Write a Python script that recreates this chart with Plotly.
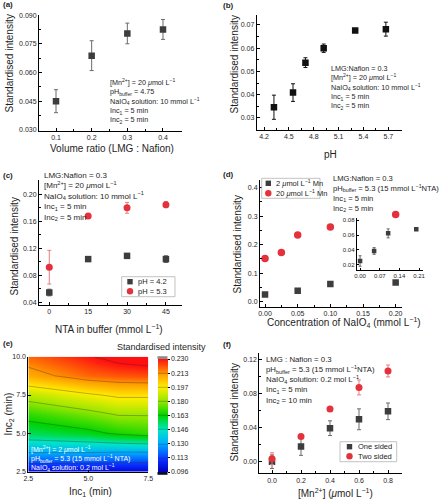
import plotly.graph_objects as go

W, H = 441, 500
def px(v): return v / W
def py(v): return 1 - v / H

FONT = "Liberation Sans, Arial, Helvetica, sans-serif"
GREY = "#3d3d3d"
GREY_ERR = "#6a6a6a"
BLACK = "#111111"
RED = "#e4323d"
RED_ERR = "#ea7b83"
TXT = "#1e1e1e"

# ---------------- data ----------------
# (a)
a_ratio = [0.1, 0.2, 0.3, 0.4]
a_int = [0.0450, 0.0688, 0.0804, 0.0825]
a_err = [0.0060, 0.0078, 0.0054, 0.0052]

# (b)
b_ph = [4.32, 4.55, 4.70, 4.92, 5.30, 5.67]
b_int = [0.0346, 0.0409, 0.0538, 0.0600, 0.0676, 0.0682]
b_err = [0.0052, 0.0038, 0.0021, 0.0018, 0.0005, 0.0030]

# (c)
c_nta = [0, 15, 30, 45]
c_int_ph42 = [0.0545, 0.1040, 0.1088, 0.1040]
c_err_ph42 = [0.0050, 0.0012, 0.0012, 0.0050]
c_int_ph53 = [0.0920, 0.1680, 0.1800, 0.1847]
c_err_ph53 = [0.0250, 0.0010, 0.0080, 0.0045]

# (d)
d_conc_2 = [0.0, 0.05, 0.10, 0.20]
d_int_2 = [0.0253, 0.0387, 0.0622, 0.0676]
d_err_2 = [0.0070, 0.0045, 0.0060, 0.0010]
d_conc_20 = [0.0, 0.025, 0.05, 0.10, 0.20]
d_int_20 = [0.152, 0.173, 0.234, 0.262, 0.306]

# (e)
e_inc1 = [2.5, 5.0, 6.25, 7.5]
e_inc2 = [2.5, 3.75, 5.0, 6.25, 7.5, 8.75, 10.0]
e_z = [
    [0.100, 0.100, 0.099, 0.099],
    [0.130, 0.130, 0.129, 0.129],
    [0.155, 0.160, 0.165, 0.168],
    [0.168, 0.176, 0.181, 0.181],
    [0.186, 0.195, 0.199, 0.199],
    [0.209, 0.219, 0.221, 0.222],
    [0.219, 0.229, 0.235, 0.238],
]
cb_tickvals = [0.096, 0.11275, 0.1295, 0.14625, 0.163, 0.17975, 0.1965, 0.21325, 0.230]
cb_ticktext = ["0.096", "0.113", "0.130", "0.146", "0.163", "0.180", "0.197", "0.213", "0.230"]

# (f)
f_mn = [0.0, 0.2, 0.4, 0.6, 0.8]
f_one = [0.0000, 0.0180, 0.0395, 0.0500, 0.0594]
f_one_err = [0.0080, 0.0105, 0.0087, 0.0123, 0.0098]
f_two = [0.0035, 0.0297, 0.0620, 0.0876, 0.1070]
f_two_err = [0.0070, 0.0010, 0.0010, 0.0088, 0.0070]

# tick labels
a_xticks = [0.1, 0.2, 0.3, 0.4]
a_yticks = [0.030, 0.045, 0.060, 0.075, 0.090]
b_xticks = [4.2, 4.5, 4.8, 5.1, 5.4, 5.7]
b_yticks = [0.03, 0.04, 0.05, 0.06, 0.07]
c_xticks = [0, 15, 30, 45]
c_yticks = [0.04, 0.08, 0.12, 0.16, 0.20]
d_xticks = [0.00, 0.05, 0.10, 0.15, 0.20]
d_yticks = [0.0, 0.1, 0.2, 0.3, 0.4]
di_xticks = [0.00, 0.07, 0.14, 0.21]
di_yticks = [0.02, 0.04, 0.06, 0.08]
e_xticks = [2.5, 5.0, 7.5]
e_yticks = [2.5, 5.0, 7.5, 10.0]
f_xticks = [0.0, 0.2, 0.4, 0.6, 0.8]
f_yticks = [0.00, 0.04, 0.08, 0.12]

fig = go.Figure()

def errbar(vals, color, width=2):
    return dict(type="data", array=vals, visible=True, color=color, thickness=1, width=width)

def pts(x, y, e, xa, ya, symbol, color, ecolor, size=6.5, ew=2):
    fig.add_trace(go.Scatter(
        x=x, y=y, mode="markers",
        marker=dict(symbol=symbol, size=size, color=color, line=dict(width=0)),
        error_y=errbar(e, ecolor, ew) if e is not None else None,
        xaxis=xa, yaxis=ya, hoverinfo="skip"))

# (a)
pts(a_ratio, a_int, a_err, "x", "y", "square", GREY, GREY_ERR)
# (b)
pts(b_ph, b_int, b_err, "x2", "y2", "square", BLACK, BLACK)
# (c)
pts(c_nta, c_int_ph42, c_err_ph42, "x3", "y3", "square", GREY, GREY_ERR)
pts(c_nta, c_int_ph53, c_err_ph53, "x3", "y3", "circle", RED, RED_ERR, size=7)
# (d)
pts(d_conc_2, d_int_2, d_err_2, "x4", "y4", "square", GREY, GREY_ERR)
pts(d_conc_20, d_int_20, None, "x4", "y4", "circle", RED, RED_ERR, size=7.5)
# (d) inset
pts(d_conc_2, d_int_2, d_err_2, "x7", "y7", "square", GREY, GREY_ERR, size=4.5, ew=1.5)
# (e)
colorscale = [
    [0.0, "#0000b8"], [0.10, "#0a28ff"], [0.25, "#00aaff"], [0.37, "#00e6c8"],
    [0.50, "#00d400"], [0.62, "#8ee600"], [0.75, "#ffee00"], [0.87, "#ff9a00"],
    [1.0, "#ff1010"],
]
fig.add_trace(go.Contour(
    x=e_inc1, y=e_inc2, z=e_z, colorscale=colorscale,
    zauto=False, zmin=0.096, zmax=0.230, autocontour=False,
    contours=dict(coloring="heatmap", start=0.1130, end=0.2303, size=0.016750, showlines=True),
    line=dict(color="rgba(40,40,40,0.55)", width=0.6, smoothing=0),
    xaxis="x5", yaxis="y5", hoverinfo="skip",
    colorbar=dict(
        x=px(157.5), xanchor="left", xpad=0, y=py(415.5), yanchor="middle", ypad=0,
        len=113, lenmode="pixels", thickness=10, thicknessmode="pixels",
        outlinewidth=0, tickmode="array", tickvals=cb_tickvals, ticktext=cb_ticktext,
        ticks="outside", ticklen=2, tickcolor="black", tickwidth=1,
        tickfont=dict(size=7, color=TXT, family=FONT)),
))
# (f)
pts(f_mn, f_one, f_one_err, "x6", "y6", "square", GREY, GREY_ERR)
pts(f_mn, f_two, f_two_err, "x6", "y6", "circle", RED, RED_ERR, size=7)

def axis(p0, p1, rng, ticks, fmt, anchor, vertical=False, minor=True, fs=7, tl=3):
    dom = [py(p1), py(p0)] if vertical else [px(p0), px(p1)]
    d = dict(domain=dom, range=rng, tickmode="array", tickvals=ticks,
             ticktext=[format(t, fmt) for t in ticks], anchor=anchor,
             showline=True, linecolor="black", linewidth=1, ticks="inside",
             ticklen=tl, tickwidth=1, tickcolor="black", showgrid=False,
             zeroline=False, tickfont=dict(size=fs, color=TXT, family=FONT),
             fixedrange=True, automargin=False)
    if minor:
        mids = [(ticks[i] + ticks[i + 1]) / 2 for i in range(len(ticks) - 1)]
        d["minor"] = dict(tickmode="array", tickvals=mids, ticks="inside",
                          ticklen=2, tickwidth=1, tickcolor="black", showgrid=False)
    return d

layout = dict(
    width=W, height=H, margin=dict(l=0, r=0, t=0, b=0, autoexpand=False),
    paper_bgcolor="white", plot_bgcolor="rgba(0,0,0,0)", showlegend=False,
    font=dict(family=FONT, size=8, color=TXT),
    xaxis=axis(39, 182, [0.0523, 0.4533], a_xticks, ".1f", "y"),
    yaxis=axis(14.5, 130.5, [0.0297, 0.0903], a_yticks, ".3f", "x", vertical=True),
    xaxis2=axis(256.7, 401.7, [4.112, 5.861], b_xticks, ".1f", "y2"),
    yaxis2=axis(15, 130, [0.0248, 0.0743], b_yticks, ".2f", "x2", vertical=True),
    xaxis3=axis(39, 182, [-3.97, 51.2], c_xticks, "d", "y3"),
    yaxis3=axis(180, 305, [0.0360, 0.2212], c_yticks, ".2f", "x3", vertical=True),
    xaxis4=axis(260, 402, [-0.0077, 0.2097], d_xticks, ".2f", "y4"),
    yaxis4=axis(180, 306.7, [-0.0175, 0.427], d_yticks, ".1f", "x4", vertical=True),
    xaxis5=axis(28.3, 148.3, [2.5, 7.5], e_xticks, ".1f", "y5", minor=False),
    yaxis5=axis(356.7, 471.7, [2.5, 10.0], e_yticks, ".1f", "x5", vertical=True, minor=False),
    xaxis6=axis(259.3, 401.7, [-0.0876, 0.8945], f_xticks, ".1f", "y6"),
    yaxis6=axis(353, 473.3, [-0.0137, 0.1282], f_yticks, ".2f", "x6", vertical=True),
    xaxis7=axis(356.7, 423, [-0.012, 0.224], di_xticks, ".2f", "y7", minor=False, fs=6, tl=2),
    yaxis7=axis(218, 270, [0.0133, 0.0827], di_yticks, ".2f", "x7", vertical=True, minor=False, fs=6, tl=2),
)
fig.update_layout(**layout)

def text(x, y, s, size=8, color=TXT, xanchor="left", angle=0):
    fig.add_annotation(x=px(x), y=py(y), xref="paper", yref="paper", text=s,
                       showarrow=False, xanchor=xanchor, yanchor="middle",
                       font=dict(size=size, color=color, family=FONT),
                       textangle=angle, borderpad=0)

def block(x, y_first, lines, size=8, color=TXT):
    # one multi-line annotation; first line centred at y_first
    top = y_first - 0.65 * size
    fig.add_annotation(x=px(x), y=py(top), xref="paper", yref="paper",
                       text="<br>".join(lines), showarrow=False, align="left",
                       xanchor="left", yanchor="top", borderpad=0,
                       font=dict(size=size, color=color, family=FONT))

UM = "<i>μ</i>mol"
# panel labels
for lx, ly, lab in [(1.5, 4, "(a)"), (221.5, 5, "(b)"), (1.5, 175, "(c)"),
                    (221.5, 174.5, "(d)"), (1.5, 343, "(e)"), (221.5, 344.5, "(f)")]:
    text(lx, ly, "<b>" + lab + "</b>", size=8)

# axis titles
text(112, 148.5, "Volume ratio (LMG : Nafion)", size=10, xanchor="center")
text(8.5, 64, "Standardised intensity", size=10, xanchor="center", angle=-90)
text(330, 154, "pH", size=10, xanchor="center")
text(233.5, 64, "Standardised intensity", size=10, xanchor="center", angle=-90)
text(108.5, 328.5, "NTA in buffer (mmol L<sup>−1</sup>)", size=10, xanchor="center")
text(13.5, 247, "Standardised intensity", size=10, xanchor="center", angle=-90)
text(344, 322.5, "Concentration of NaIO<sub>4</sub> (mmol L<sup>−1</sup>)", size=10, xanchor="center")
text(236.5, 244, "Standardised intensity", size=10, xanchor="center", angle=-90)
text(90, 491.5, "Inc<sub>1</sub> (min)", size=10, xanchor="center")
text(8.5, 414, "Inc<sub>2</sub> (min)", size=10, xanchor="center", angle=-90)
text(335, 492.5, "[Mn<sup>2+</sup>] (" + UM + " L<sup>−1</sup>)", size=10, xanchor="center")
text(233.5, 412, "Standardised intensity", size=10, xanchor="center", angle=-90)
text(161, 346.5, "Standardised intensity", size=9, xanchor="center")

# condition blocks
block(109, 80.3, ["[Mn<sup>2+</sup>] = 20 " + UM + " L<sup>−1</sup>",
                  "pH<sub>buffer</sub> = 4.75",
                  "NaIO<sub>4</sub> solution: 10 mmol L<sup>−1</sup>",
                  "Inc<sub>1</sub> = 5 min", "Inc<sub>2</sub> = 5 min"], size=7.2)
block(330, 67.8, ["LMG:Nafion = 0.3",
                  "[Mn<sup>2+</sup>] = 20 " + UM + " L<sup>−1</sup>",
                  "NaIO<sub>4</sub> solution: 10 mmol L<sup>−1</sup>",
                  "Inc<sub>1</sub> = 5 min", "Inc<sub>2</sub> = 5 min"], size=7.2)
block(42.5, 175, ["LMG:Nafion = 0.3",
                  "[Mn<sup>2+</sup>] = 20 " + UM + " L<sup>−1</sup>",
                  "NaIO<sub>4</sub> solution: 10 mmol L<sup>−1</sup>",
                  "Inc<sub>1</sub> = 5 min", "Inc<sub>2</sub> = 5 min"], size=8)
block(331.5, 177.7, ["LMG:Nafion = 0.3",
                     "pH<sub>buffer</sub> = 5.3 (15 mmol L<sup>−1</sup>NTA)",
                     "Inc<sub>1</sub> = 5 min", "Inc<sub>2</sub> = 5 min"], size=7.6)
block(29.5, 448.3, ["[Mn<sup>2+</sup>] = 2 " + UM + " L<sup>−1</sup>",
                    "pH<sub>buffer</sub> = 5.3 (15 mmol L<sup>−1</sup> NTA)",
                    "NaIO<sub>4</sub> solution: 0.2 mol L<sup>−1</sup>"], size=7, color="white")
block(265, 359.3, ["LMG : Nafion = 0.3",
                   "pH<sub>buffer</sub> = 5.3 (15 mmol L<sup>−1</sup>NTA)",
                   "NaIO<sub>4</sub> solution: 0.2 mol L<sup>−1</sup>",
                   "Inc<sub>1</sub> = 5 min", "Inc<sub>2</sub> = 10 min"], size=7.8)

# colorbar end caps
fig.add_shape(type="rect", xref="paper", yref="paper", x0=px(157.5), x1=px(167.5),
              y0=py(359), y1=py(356.2), fillcolor="#8c8c8c", line=dict(width=0))
fig.add_shape(type="rect", xref="paper", yref="paper", x0=px(157.5), x1=px(167.5),
              y0=py(474.8), y1=py(472), fillcolor="#0a0a30", line=dict(width=0))

# manual legends
def legend(box, entries):
    x0, y0, x1, y1 = box
    fig.add_shape(type="rect", xref="paper", yref="paper", x0=px(x0), x1=px(x1),
                  y0=py(y1), y1=py(y0), fillcolor="white",
                  line=dict(color="#9a9a9a", width=0.6))
    for (mx, my, kind, color, label) in entries:
        if kind == "square":
            fig.add_shape(type="rect", xref="paper", yref="paper",
                          x0=px(mx - 2.7), x1=px(mx + 2.7), y0=py(my + 2.7), y1=py(my - 2.7),
                          fillcolor=color, line=dict(width=0))
        else:
            fig.add_shape(type="circle", xref="paper", yref="paper",
                          x0=px(mx - 3.2), x1=px(mx + 3.2), y0=py(my + 3.2), y1=py(my - 3.2),
                          fillcolor=color, line=dict(width=0))
        text(mx + 7, my, label, size=7.5)

legend((121.7, 276.7, 175, 296.7), [(130, 281.7, "square", GREY, "pH = 4.2"),
                                    (130, 291.2, "circle", RED, "pH = 5.3")])
legend((261.7, 178.3, 320, 198.3), [(268.3, 183.3, "square", GREY, "2 " + UM + " L<sup>−1</sup> Mn"),
                                    (268.3, 193.3, "circle", RED, "20 " + UM + " L<sup>−1</sup> Mn")])
legend((340, 441.7, 396.7, 461.7), [(349.5, 446.7, "square", GREY, "One sided"),
                                    (349.5, 456.2, "circle", RED, "Two sided")])

fig.write_html("out.html", config={"displayModeBar": False, "staticPlot": True},
               post_script="document.body.style.margin='0';document.body.style.padding='0';document.body.style.overflow='hidden';")
